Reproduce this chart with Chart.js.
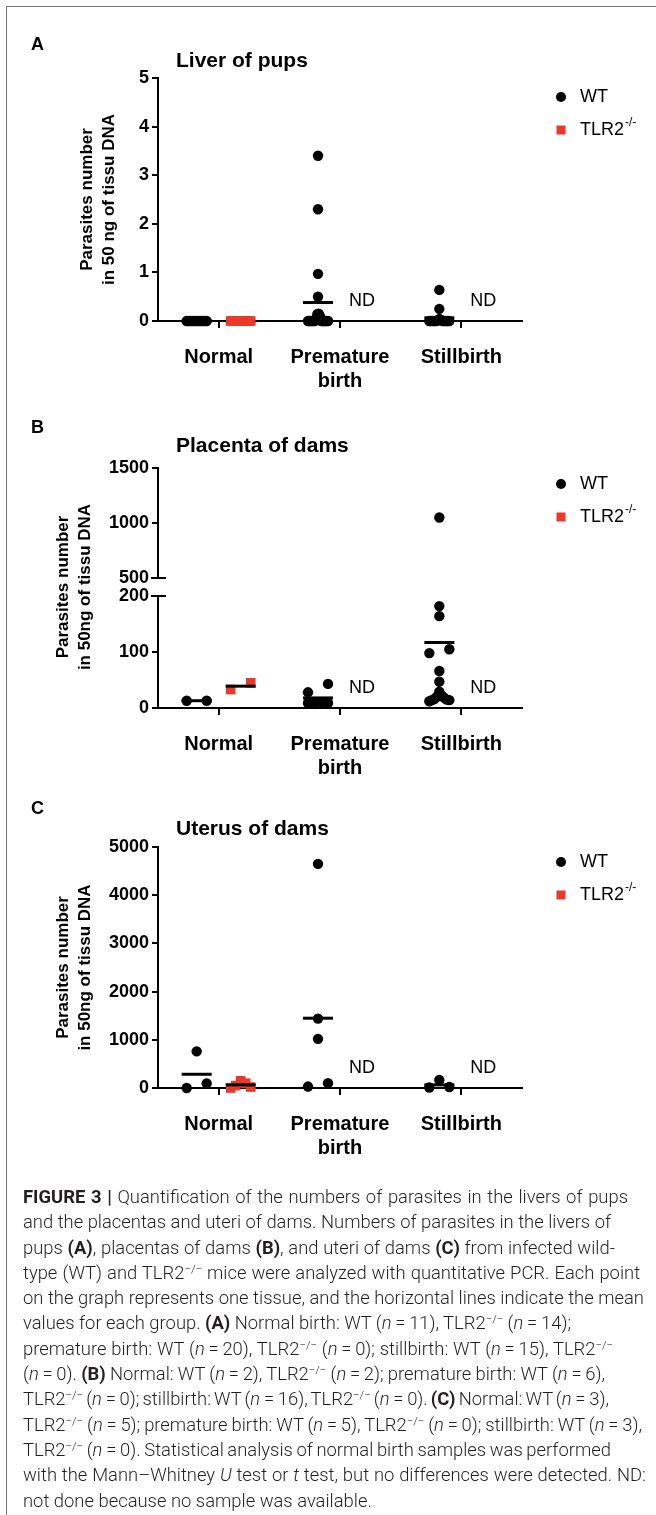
<!DOCTYPE html>
<html>
<head>
<meta charset="utf-8">
<title>Figure 3</title>
<script src="https://cdn.jsdelivr.net/npm/chart.js@4.4.1/dist/chart.umd.min.js"></script>
<style>
  html, body { margin: 0; padding: 0; background: #fff; }
  #page { position: relative; width: 656px; height: 1515px; overflow: hidden; background: #fff; }
  .frame-top { position: absolute; left: 6px; top: 6px; width: 650px; height: 1px; background: #7a7a7a; }
  .frame-left { position: absolute; left: 6px; top: 6px; width: 1px; height: 1509px; background: #7a7a7a; }
  canvas { position: absolute; left: 0; }
  #caption {
    position: absolute; left: 23px; top: 1184px;
    font-family: Roboto, "Liberation Sans", Arial, sans-serif; font-weight: 300;
    font-size: 18.4px; line-height: 25.3px; color: #231f20; white-space: nowrap;
  }
  #caption b { font-weight: 700; }
  #caption sup { font-size: 0.62em; line-height: 0; vertical-align: 0.5em; }
</style>
</head>
<body>
<div id="page">
  <div class="frame-top"></div>
  <div class="frame-left"></div>
  <canvas id="panelA" width="656" height="420" style="top:0px"></canvas>
  <canvas id="panelB" width="656" height="420" style="top:390px"></canvas>
  <canvas id="panelC" width="656" height="420" style="top:780px"></canvas>
  <div id="caption">
    <div><b>FIGURE 3</b> <b>|</b> Quantification of the numbers of parasites in the livers of pups</div>
    <div>and the placentas and uteri of dams. Numbers of parasites in the livers of</div>
    <div>pups <b>(A)</b>, placentas of dams <b>(B)</b>, and uteri of dams <b>(C)</b> from infected wild-</div>
    <div>type (WT) and TLR2<sup>−/−</sup> mice were analyzed with quantitative PCR. Each point</div>
    <div>on the graph represents one tissue, and the horizontal lines indicate the mean</div>
    <div>values for each group. <b>(A)</b> Normal birth: WT (<i>n</i>&thinsp;=&thinsp;11), TLR2<sup>−/−</sup> (<i>n</i>&thinsp;=&thinsp;14);</div>
    <div>premature birth: WT (<i>n</i>&thinsp;=&thinsp;20), TLR2<sup>−/−</sup> (<i>n</i>&thinsp;=&thinsp;0); stillbirth: WT (<i>n</i>&thinsp;=&thinsp;15), TLR2<sup>−/−</sup></div>
    <div>(<i>n</i>&thinsp;=&thinsp;0). <b>(B)</b> Normal: WT (<i>n</i>&thinsp;=&thinsp;2), TLR2<sup>−/−</sup> (<i>n</i>&thinsp;=&thinsp;2); premature birth: WT (<i>n</i>&thinsp;=&thinsp;6),</div>
    <div>TLR2<sup>−/−</sup> (<i>n</i>&thinsp;=&thinsp;0); stillbirth: WT (<i>n</i>&thinsp;=&thinsp;16), TLR2<sup>−/−</sup> (<i>n</i>&thinsp;=&thinsp;0). <b>(C)</b> Normal: WT (<i>n</i>&thinsp;=&thinsp;3),</div>
    <div>TLR2<sup>−/−</sup> (<i>n</i>&thinsp;=&thinsp;5); premature birth: WT (<i>n</i>&thinsp;=&thinsp;5), TLR2<sup>−/−</sup> (<i>n</i>&thinsp;=&thinsp;0); stillbirth: WT (<i>n</i>&thinsp;=&thinsp;3),</div>
    <div>TLR2<sup>−/−</sup> (<i>n</i>&thinsp;=&thinsp;0). Statistical analysis of normal birth samples was performed</div>
    <div>with the Mann–Whitney <i>U</i> test or <i>t</i> test, but no differences were detected. ND:</div>
    <div>not done because no sample was available.</div>
  </div>
</div>
<script>
// Categories on the x axis
const categories = ['Normal', ['Premature', 'birth'], 'Stillbirth'];

// A - liver of pups (parasites in 50 ng of tissue DNA)
const liverWtNormal = [0, 0, 0, 0, 0, 0, 0, 0, 0, 0, 0];
const liverTlrNormal = [0, 0, 0, 0, 0, 0, 0, 0, 0, 0, 0, 0, 0, 0];
const liverWtPremature = [3.4, 2.3, 0.97, 0.5, 0.15, 0.14, 0.1, 0.04, 0, 0, 0, 0, 0, 0, 0, 0, 0, 0, 0, 0];
const liverTlrPremature = [];
const liverWtStillbirth = [0.64, 0.25, 0.04, 0.02, 0.01, 0, 0, 0, 0, 0, 0, 0, 0, 0, 0];
const liverTlrStillbirth = [];
const liverTicks = [0, 1, 2, 3, 4, 5];

// B - placenta of dams
const placentaWtNormal = [13, 13];
const placentaTlrNormal = [33, 45];
const placentaWtPremature = [43, 28, 10, 9, 9, 9];
const placentaTlrPremature = [];
const placentaWtStillbirth = [1050, 182, 164, 105, 98, 66, 47, 29, 22, 20, 18, 16, 15, 14, 14, 12];
const placentaTlrStillbirth = [];
const placentaLowTicks = [0, 50, 100, 150, 200];
const placentaHighTicks = [500, 1000, 1500];

// C - uterus of dams
const uterusWtNormal = [760, 95, 0];
const uterusTlrNormal = [150, 100, 50, 20, 0];
const uterusWtPremature = [4650, 1440, 1020, 100, 30];
const uterusTlrPremature = [];
const uterusWtStillbirth = [165, 20, 10];
const uterusTlrStillbirth = [];
const uterusTicks = [0, 1000, 2000, 3000, 4000, 5000];

const RED = '#e8392b';
const FONT = '"Liberation Sans", Arial, Helvetica, sans-serif';
Chart.defaults.font.family = FONT;
Chart.defaults.color = '#000';

const plotLeft = 158, plotRight = 522, leftPad = 30, xAxisHeight = 80;
const xMin = -0.5, xMax = 2.5;
const xPxPerUnit = (plotRight - plotLeft) / (xMax - xMin);
const groupShift = 22 / xPxPerUnit;

function mean(a) {
  return a.reduce((s, v) => s + v, 0) / a.length;
}

// spread points that would overlap (GraphPad style scatter columns)
function swarm(values, center, pxPerUnit) {
  const dot = 10, spread = 20 / xPxPerUnit;
  const sorted = values.slice().sort((a, b) => b - a);
  const out = [];
  let grp = [];
  const flush = () => {
    const k = grp.length;
    const pos = [];
    for (let j = 0; j < k; j++) {
      const p = k > 1 ? -spread / 2 + spread * j / (k - 1) : 0;
      pos.push(Math.round(p * 1e6) / 1e6);
    }
    pos.sort((a, b) => Math.abs(a) - Math.abs(b) || b - a);
    grp.forEach((v, j) => out.push({ x: center + pos[j], y: v }));
    grp = [];
  };
  sorted.forEach(v => {
    if (grp.length && (grp[grp.length - 1] - v) * pxPerUnit >= dot) flush();
    grp.push(v);
  });
  if (grp.length) flush();
  return out;
}

function yTitle(lines, pad) {
  return {
    display: true, text: lines, color: '#000',
    font: { size: 17, weight: 'bold', lineHeight: 1.3 },
    padding: { top: pad, bottom: 0 }
  };
}

function xAxisOptions() {
  return {
    type: 'linear', min: xMin, max: xMax,
    afterBuildTicks: s => { s.ticks = categories.map((c, i) => ({ value: i })); },
    afterFit: s => { s.height = xAxisHeight; },
    ticks: {
      autoSkip: false, maxRotation: 0, padding: 17, color: '#000',
      font: { size: 20, weight: 'bold', lineHeight: 1.2 },
      callback: v => categories[v]
    },
    grid: { drawOnChartArea: false, tickLength: 7, color: '#000', lineWidth: 2 },
    border: { color: '#000', width: 2 }
  };
}

function yAxisOptions(a, stacked, titlePad) {
  const o = {
    type: 'linear', position: 'left', min: a.min, max: a.max,
    afterFit: s => { s.width = plotLeft - leftPad; }
  };
  if (a.gap) {
    o.ticks = { display: false };
    o.grid = { display: false };
    o.border = { display: false };
  } else {
    o.afterBuildTicks = s => { s.ticks = a.ticks.map(v => ({ value: v })); };
    o.ticks = { padding: 3, color: '#000', font: { size: 18, weight: 'bold' }, callback: v => String(v) };
    o.grid = { drawOnChartArea: false, tickLength: 6, color: '#000', lineWidth: 2 };
    o.border = { color: '#000', width: 2 };
  }
  if (stacked) {
    o.stack = 'y';
    o.stackWeight = a.weight;
  }
  if (a.title) o.title = yTitle(a.title, titlePad);
  return o;
}

const panelDecor = {
  id: 'panelDecor',
  afterDraw(chart, args, o) {
    const ctx = chart.ctx;
    const dy = -o.top;
    ctx.save();
    ctx.fillStyle = '#000';
    ctx.textAlign = 'left';
    ctx.textBaseline = 'alphabetic';
    ctx.font = 'bold 18px ' + FONT;
    ctx.fillText(o.letter, 31, o.letterY + dy);
    ctx.font = 'bold 21px ' + FONT;
    ctx.fillText(o.title, 176, o.titleY + dy);

    // legend
    const ly = o.legendY + dy, ly2 = ly + 33;
    ctx.beginPath();
    ctx.arc(561, ly, 5, 0, Math.PI * 2);
    ctx.fill();
    ctx.fillStyle = RED;
    ctx.fillRect(556.5, ly2 - 4.5, 9, 9);
    ctx.fillStyle = '#000';
    ctx.textBaseline = 'middle';
    ctx.font = '18px ' + FONT;
    ctx.fillText('WT', 580, ly);
    ctx.fillText('TLR2', 580, ly2);
    const w = ctx.measureText('TLR2').width;
    ctx.font = '12px ' + FONT;
    ctx.fillText('-/-', 581 + w, ly2 - 7);

    // ND where no sample was available
    const x = chart.scales.x, bottom = chart.chartArea.bottom;
    ctx.font = '18px ' + FONT;
    ctx.textAlign = 'center';
    o.nd.forEach(i => ctx.fillText('ND', x.getPixelForValue(i + groupShift), bottom - 20));

    // axis break marks
    if (o.breakAxes) {
      const [hi, lo] = o.breakAxes.map(id => chart.scales[id]);
      const ax = chart.chartArea.left;
      ctx.strokeStyle = '#000';
      ctx.lineWidth = 2;
      [hi.getPixelForValue(hi.min), lo.getPixelForValue(lo.max)].forEach(py => {
        ctx.beginPath();
        ctx.moveTo(ax - 7, py);
        ctx.lineTo(ax + 8, py);
        ctx.stroke();
      });
    }
    ctx.restore();
  }
};

function buildPanel(p) {
  const plotH = p.plotBottom - p.plotTop;
  const totalWeight = p.axes.reduce((s, a) => s + a.weight, 0);
  const stacked = p.axes.length > 1;
  const scales = { x: xAxisOptions() };
  // listed bottom to top: the last stacked axis is laid out on top
  p.axes.forEach(a => {
    if (!a.gap) a.pxPerUnit = plotH * a.weight / totalWeight / (a.max - a.min);
    scales[a.id] = yAxisOptions(a, stacked, p.titlePad);
  });
  const dataAxes = p.axes.filter(a => !a.gap);
  const axisFor = v => dataAxes.find(a => v >= a.min && v <= a.max) || dataAxes[0];

  const pointSets = [];
  const means = [];
  [
    ['WT', p.wt, 'circle', '#000', -groupShift, 5.2],
    ['TLR2', p.tlr, 'rect', RED, groupShift, 6.8]
  ].forEach(([name, series, style, color, shift, radius]) => {
    dataAxes.forEach(a => {
      let pts = [];
      series.forEach((vals, i) => {
        pts = pts.concat(swarm(vals.filter(v => axisFor(v) === a), i + shift, a.pxPerUnit));
      });
      if (pts.length) {
        pointSets.push({
          label: name, data: pts, yAxisID: a.id, clip: false,
          pointStyle: style, pointRadius: radius, pointHoverRadius: radius,
          backgroundColor: color, borderColor: color, borderWidth: 0
        });
      }
    });
    series.forEach((vals, i) => {
      if (vals.length) means.push({ x: i + shift, y: mean(vals) });
    });
  });

  const meanSet = {
    label: 'mean', data: means, yAxisID: axisFor(0).id, clip: false,
    pointStyle: 'line', pointRadius: 15, pointHoverRadius: 15,
    borderColor: '#000', borderWidth: 3, backgroundColor: '#000'
  };
  // first dataset is drawn on top
  const datasets = p.meanOnTop ? [meanSet].concat(pointSets) : pointSets.concat([meanSet]);

  const canvas = document.getElementById(p.id);
  new Chart(canvas, {
    type: 'scatter',
    data: { datasets },
    options: {
      responsive: false,
      animation: false,
      events: [],
      layout: {
        padding: {
          left: leftPad,
          right: 656 - plotRight,
          top: p.plotTop - p.top,
          bottom: canvas.height - (p.plotBottom - p.top) - xAxisHeight
        }
      },
      scales,
      plugins: {
        legend: { display: false },
        tooltip: { enabled: false },
        panelDecor: {
          top: p.top, letter: p.letter, letterY: p.letterY,
          title: p.title, titleY: p.titleY, legendY: p.legendY,
          nd: p.tlr.map((v, i) => v.length ? -1 : i).filter(i => i >= 0),
          breakAxes: p.breakAxes
        }
      }
    },
    plugins: [panelDecor]
  });
}

buildPanel({
  id: 'panelA', top: 0, plotTop: 78, plotBottom: 321, titlePad: 46,
  letter: 'A', letterY: 50, title: 'Liver of pups', titleY: 67, legendY: 97,
  axes: [{ id: 'y', min: 0, max: 5, ticks: liverTicks, weight: 1,
    title: ['Parasites number', 'in 50 ng of tissu DNA'] }],
  wt: [liverWtNormal, liverWtPremature, liverWtStillbirth],
  tlr: [liverTlrNormal, liverTlrPremature, liverTlrStillbirth],
  meanOnTop: false
});

buildPanel({
  id: 'panelB', top: 390, plotTop: 468, plotBottom: 708, titlePad: 22,
  letter: 'B', letterY: 433, title: 'Placenta of dams', titleY: 452, legendY: 484,
  axes: [
    { id: 'yLow', min: 0, max: 200, ticks: placentaLowTicks, weight: 112 },
    { id: 'yGap', min: 0, max: 1, gap: true, weight: 18,
      title: ['Parasites number', 'in 50ng of tissu DNA'] },
    { id: 'yHigh', min: 500, max: 1500, ticks: placentaHighTicks, weight: 110 }
  ],
  breakAxes: ['yHigh', 'yLow'],
  wt: [placentaWtNormal, placentaWtPremature, placentaWtStillbirth],
  tlr: [placentaTlrNormal, placentaTlrPremature, placentaTlrStillbirth],
  meanOnTop: true
});

buildPanel({
  id: 'panelC', top: 780, plotTop: 847, plotBottom: 1088, titlePad: 22,
  letter: 'C', letterY: 814, title: 'Uterus of dams', titleY: 835, legendY: 862,
  axes: [{ id: 'y', min: 0, max: 5000, ticks: uterusTicks, weight: 1,
    title: ['Parasites number', 'in 50ng of tissu DNA'] }],
  wt: [uterusWtNormal, uterusWtPremature, uterusWtStillbirth],
  tlr: [uterusTlrNormal, uterusTlrPremature, uterusTlrStillbirth],
  meanOnTop: true
});

// caption: stretch word spacing so each line ends where the printed line ends
const captionLineEnds = [628, 611, 615, 640, 644, 571, 613, 605, 609, 642, 611, 646, null];
document.querySelectorAll('#caption > div').forEach((line, i) => {
  const end = captionLineEnds[i];
  if (!end) return;
  const r = document.createRange();
  r.selectNodeContents(line);
  const box = r.getBoundingClientRect();
  const spaces = (line.textContent.match(/ /g) || []).length;
  if (spaces) line.style.wordSpacing = ((end - box.right) / spaces).toFixed(2) + 'px';
});
</script>
</body>
</html>
